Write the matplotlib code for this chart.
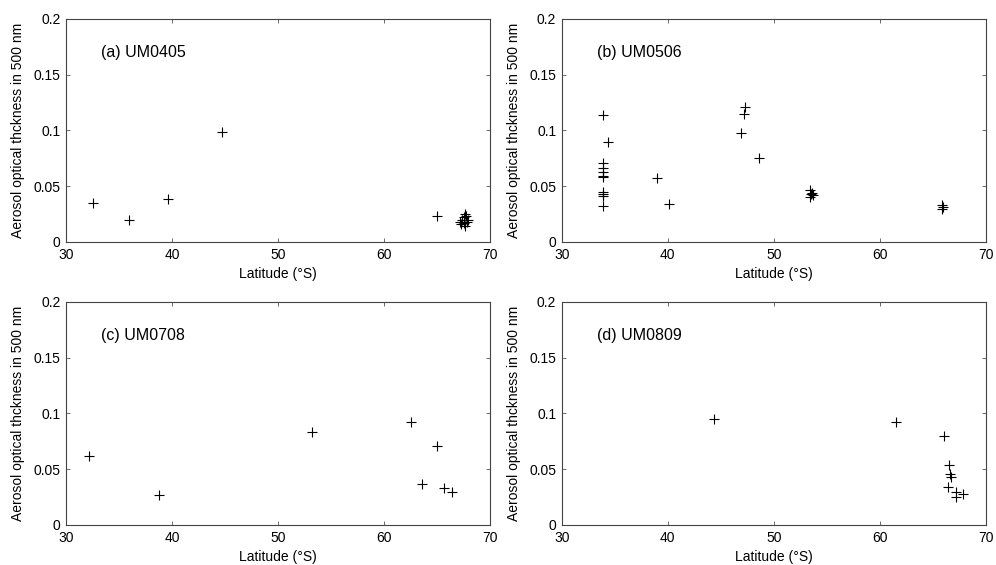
import numpy as np
import matplotlib.pyplot as plt

plt.rcParams['font.family'] = ['Liberation Sans', 'DejaVu Sans']
plt.rcParams['font.size'] = 10

# (a) UM0405
lat_a = [32.5, 35.9, 39.6, 44.7, 65.0,
         67.2, 67.4, 67.5, 67.6, 67.8, 67.3, 67.6, 67.9, 67.5, 67.7]
aot_a = [0.035, 0.020, 0.039, 0.099, 0.023,
         0.018, 0.020, 0.022, 0.025, 0.018, 0.016, 0.014, 0.020, 0.017, 0.023]

# (b) UM0506
lat_b = [33.9, 33.9, 33.9, 33.9, 33.9, 33.9, 33.9, 33.9, 33.9, 33.9,
         34.4, 39.0, 40.1, 47.3, 47.2, 46.9, 48.6,
         53.4, 53.6, 53.5, 53.7, 53.4,
         65.9, 66.0, 65.9]
aot_b = [0.114, 0.071, 0.066, 0.063, 0.059, 0.058, 0.045, 0.043, 0.041, 0.032,
         0.090, 0.057, 0.034, 0.121, 0.115, 0.098, 0.075,
         0.047, 0.044, 0.043, 0.042, 0.040,
         0.033, 0.031, 0.030]

# (c) UM0708
lat_c = [32.2, 38.8, 53.2, 62.5, 65.0, 63.6, 65.7, 66.4]
aot_c = [0.062, 0.027, 0.083, 0.092, 0.071, 0.037, 0.033, 0.030]

# (d) UM0809
lat_d = [44.4, 61.5, 66.1, 66.5, 66.6, 66.7, 66.4, 67.2, 67.2, 67.9]
aot_d = [0.095, 0.092, 0.080, 0.054, 0.046, 0.043, 0.034, 0.030, 0.025, 0.028]

panels = [
    ('(a) UM0405', lat_a, aot_a),
    ('(b) UM0506', lat_b, aot_b),
    ('(c) UM0708', lat_c, aot_c),
    ('(d) UM0809', lat_d, aot_d),
]

fig = plt.figure(figsize=(9.96, 5.65), dpi=100)
lefts = [0.0663, 0.564]
bottoms = [0.5717, 0.0708]
w, h = 0.4257, 0.3947

for i, (title, lat, aot) in enumerate(panels):
    ax = fig.add_axes([lefts[i % 2], bottoms[i // 2], w, h])
    ax.plot(lat, aot, '+', color='black', markersize=7.5, markeredgewidth=0.8)
    ax.set_xlim(30, 70)
    ax.set_ylim(0, 0.2)
    ax.set_xticks([30, 40, 50, 60, 70])
    ax.set_yticks([0, 0.05, 0.1, 0.15, 0.2])
    ax.set_yticklabels(['0', '0.05', '0.1', '0.15', '0.2'])
    ax.tick_params(direction='in', top=True, right=True, length=3,
                   width=0.6, color='#555555', labelsize=10, pad=4)
    for sp in ax.spines.values():
        sp.set_linewidth(0.8)
        sp.set_color('#444444')
    ax.set_xlabel('Latitude (°S)', fontsize=10, labelpad=4)
    ax.set_ylabel('Aerosol optical thckness in 500 nm', fontsize=10, labelpad=6)
    ax.text(33.3, 0.17, title, fontsize=11.5, va='center', ha='left')

fig.savefig('out.png', dpi=100)
